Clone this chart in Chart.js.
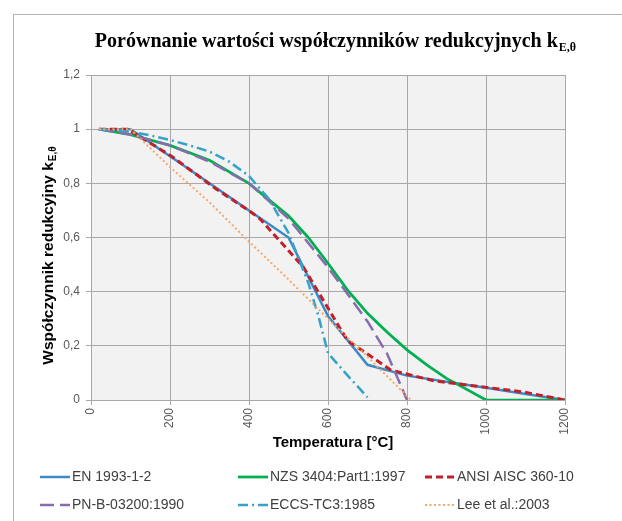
<!DOCTYPE html>
<html><head><meta charset="utf-8">
<script src="https://cdn.jsdelivr.net/npm/chart.js@4.4.0/dist/chart.umd.min.js"></script>
<style>html,body{margin:0;padding:0;background:#fff;}canvas{display:block;}</style>
</head><body>
<canvas id="c" width="622" height="521"></canvas>
<script>
// ---- texts ----
const titleMain = 'Porównanie wartości współczynników redukcyjnych k';
const titleSub = 'E,θ';
const xTitle = 'Temperatura [°C]';
const yTitleMain = 'Współczynnik redukcyjny k';
const yTitleSub = 'E,θ';
const seriesNames = ['EN 1993-1-2','NZS 3404:Part1:1997','ANSI AISC 360-10','PN-B-03200:1990','ECCS-TC3:1985','Lee et al.:2003'];

// ---- axis ticks ----
const xTickValues = [0,200,400,600,800,1000,1200];
const yTickValues = [0,0.2,0.4,0.6,0.8,1,1.2];

// ---- data (temperature [°C], reduction factor) ----
const T_EN   = [20,100,200,300,400,500,600,700,800,900,1000,1100,1200];
const K_EN   = [1,1,0.9,0.8,0.7,0.6,0.31,0.13,0.09,0.0675,0.045,0.0225,0];

const T_NZS  = [20,100,200,300,400,500,550,600,650,700,750,800,850,900,950,1000,1200];
const K_NZS  = [1,0.98,0.94,0.885,0.80,0.68,0.60,0.505,0.405,0.32,0.25,0.185,0.13,0.08,0.04,0,0];

const T_ANSI = [20,93,204,316,399,427,538,649,760,871,982,1093,1200];
const K_ANSI = [1,1,0.9,0.78,0.7,0.67,0.49,0.22,0.11,0.07,0.05,0.03,0];

const T_PN   = [20,100,200,300,400,500,600,700,750,800];
const K_PN   = [1,0.98,0.94,0.88,0.80,0.67,0.49,0.29,0.17,0];

const T_ECCS = [20,100,150,200,250,300,350,400,450,500,550,575,600,650,700];
const K_ECCS = [1,0.99,0.977,0.96,0.94,0.917,0.88,0.827,0.743,0.617,0.433,0.314,0.173,0.09,0.01];

const T_LEE  = [20,100,200,300,400,500,600,700,810];
const K_LEE  = [1,1,0.86,0.73,0.585,0.445,0.30,0.16,0];

function pts(T,K){ return T.map((t,i)=>({x:t,y:K[i]})); }

const styles = [
  {color:'#3d8ac7', width:2.5, dash:[]},
  {color:'#00b050', width:2.75, dash:[]},
  {color:'#c0202a', width:3, dash:[7,4]},
  {color:'#8a6bb0', width:2.5, dash:[14,6]},
  {color:'#35a3c9', width:2.5, dash:[10,4,2,4]},
  {color:'#f7a868', width:2, dash:[2,2.5]}
];
const seriesData = [pts(T_EN,K_EN),pts(T_NZS,K_NZS),pts(T_ANSI,K_ANSI),pts(T_PN,K_PN),pts(T_ECCS,K_ECCS),pts(T_LEE,K_LEE)];

const datasets = seriesData.map((d,i)=>({
  label: seriesNames[i], data: d,
  borderColor: styles[i].color, borderWidth: styles[i].width, borderDash: styles[i].dash,
  pointRadius:0, fill:false, tension:0, order: 6-i
}));

const SANS = '"Liberation Sans", Arial, sans-serif';

const deco = {
  id:'deco',
  beforeDraw(chart){
    const {ctx, chartArea:a} = chart;
    ctx.save();
    ctx.fillStyle='#fff'; ctx.fillRect(0,0,chart.width,chart.height);
    ctx.strokeStyle='#b4b4b4'; ctx.lineWidth=1;
    ctx.strokeRect(13.5,14.5,700,600);
    ctx.fillStyle='#f2f2f2';
    ctx.fillRect(a.left,a.top,a.right-a.left,a.bottom-a.top);
    ctx.restore();
  },
  afterDraw(chart){
    const {ctx} = chart;
    ctx.save();
    // title
    ctx.fillStyle='#000';
    ctx.textBaseline='alphabetic';
    const tf='bold 20px "Liberation Serif", "Times New Roman", serif';
    const sf='bold 12px "Liberation Serif", "Times New Roman", serif';
    ctx.font=tf; const w1=ctx.measureText(titleMain).width;
    ctx.font=sf; const w2=ctx.measureText(titleSub).width;
    let x0=335-(w1+w2)/2;
    ctx.font=tf; ctx.textAlign='left'; ctx.fillText(titleMain,x0,47);
    ctx.font=sf; ctx.fillText(titleSub,x0+w1+1,51);
    // x title
    ctx.font='bold 15px '+SANS; ctx.textAlign='center'; ctx.textBaseline='middle';
    ctx.fillStyle='#000';
    ctx.fillText(xTitle,333,443);
    // y title
    ctx.save();
    ctx.translate(48,256); ctx.rotate(-Math.PI/2);
    const yf='bold 15.5px '+SANS, ysf='bold 10px '+SANS;
    ctx.font=yf; const v1=ctx.measureText(yTitleMain).width;
    ctx.font=ysf; const v2=ctx.measureText(yTitleSub).width;
    ctx.textAlign='left'; ctx.textBaseline='alphabetic';
    ctx.font=yf; ctx.fillText(yTitleMain,-(v1+v2)/2,5);
    ctx.font=ysf; ctx.fillText(yTitleSub,-(v1+v2)/2+v1+1,8);
    ctx.restore();
    // legend
    const pos=[[40,477],[238,477],[425,477],[40,505],[238,505],[425,505]];
    ctx.font='14px '+SANS; ctx.textBaseline='middle'; ctx.textAlign='left';
    pos.forEach((p,i)=>{
      const s=styles[i];
      ctx.save();
      ctx.strokeStyle=s.color; ctx.lineWidth=s.width; ctx.setLineDash(s.dash);
      ctx.beginPath(); ctx.moveTo(p[0],p[1]); ctx.lineTo(p[0]+30,p[1]); ctx.stroke();
      ctx.restore();
      ctx.fillStyle='#404040';
      ctx.fillText(seriesNames[i],p[0]+32,p[1]);
    });
    ctx.restore();
  }
};

new Chart(document.getElementById('c'),{
  type:'line',
  data:{datasets},
  options:{
    responsive:false, animation:false,
    layout:{padding:{left:0,top:75,right:57,bottom:0}},
    plugins:{legend:{display:false},title:{display:false},tooltip:{enabled:false}},
    scales:{
      x:{type:'linear',min:0,max:1200,
        afterBuildTicks:s=>{s.ticks=xTickValues.map(v=>({value:v}));},
        afterFit:s=>{s.height=121;},
        ticks:{minRotation:90,maxRotation:90,color:'#595959',font:{family:SANS,size:12},padding:3,
          callback:v=>String(v)},
        grid:{color:'#a8a8a8',tickLength:5,lineWidth:1},
        border:{color:'#a8a8a8'}
      },
      y:{type:'linear',min:0,max:1.2,
        afterBuildTicks:s=>{s.ticks=yTickValues.map(v=>({value:v}));},
        afterFit:s=>{s.width=91;},
        ticks:{color:'#595959',font:{family:SANS,size:12},padding:6,
          callback:v=>String(Math.round(v*10)/10).replace('.',',')},
        grid:{color:'#a8a8a8',tickLength:5,lineWidth:1},
        border:{color:'#a8a8a8'}
      }
    }
  },
  plugins:[deco]
});
</script>
</body></html>
